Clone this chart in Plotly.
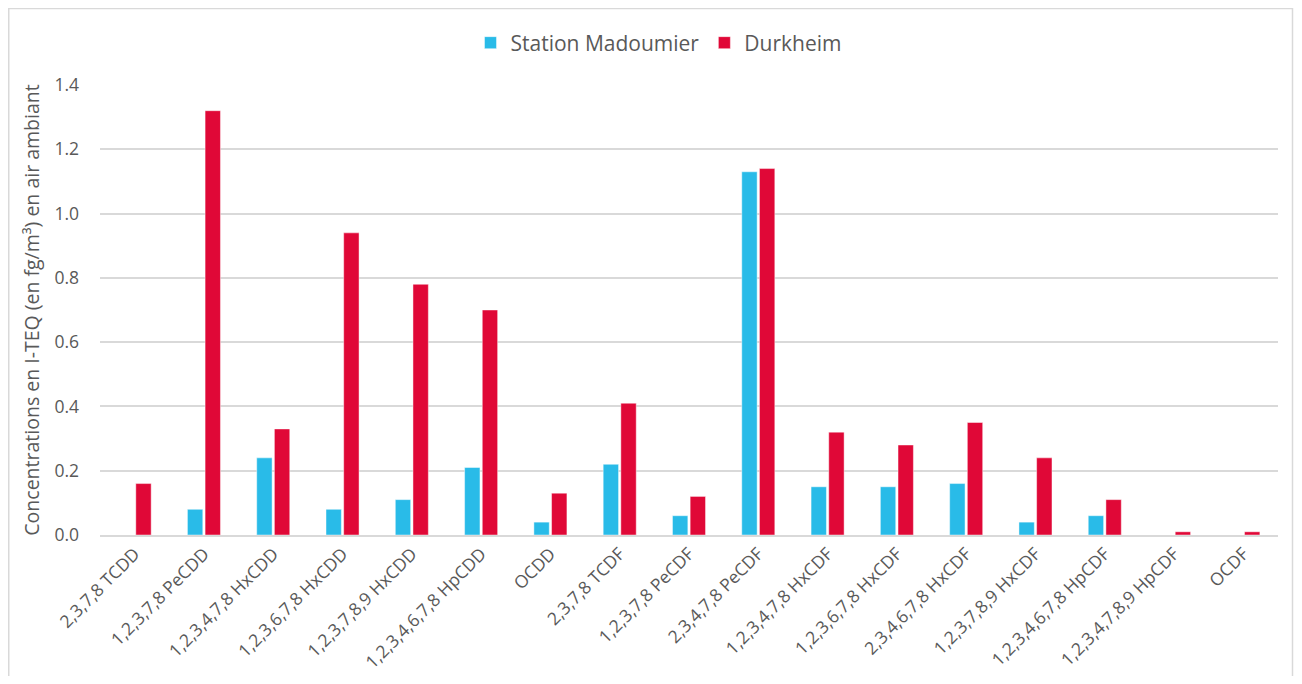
import plotly.graph_objects as go

categories = ["2,3,7,8 TCDD", "1,2,3,7,8 PeCDD", "1,2,3,4,7,8 HxCDD", "1,2,3,6,7,8 HxCDD",
              "1,2,3,7,8,9 HxCDD", "1,2,3,4,6,7,8 HpCDD", "OCDD", "2,3,7,8 TCDF",
              "1,2,3,7,8 PeCDF", "2,3,4,7,8 PeCDF", "1,2,3,4,7,8 HxCDF", "1,2,3,6,7,8 HxCDF",
              "2,3,4,6,7,8 HxCDF", "1,2,3,7,8,9 HxCDF", "1,2,3,4,6,7,8 HpCDF",
              "1,2,3,4,7,8,9 HpCDF", "OCDF"]
madoumier = [None, 0.08, 0.24, 0.08, 0.11, 0.21, 0.04, 0.22, 0.06, 1.13, 0.15, 0.15, 0.16,
             0.04, 0.06, None, None]
durkheim = [0.16, 1.32, 0.33, 0.94, 0.78, 0.70, 0.13, 0.41, 0.12, 1.14, 0.32, 0.28, 0.35,
            0.24, 0.11, 0.01, 0.01]
y_ticks = [0.0, 0.2, 0.4, 0.6, 0.8, 1.0, 1.2, 1.4]

FONT = "Open Sans"
TXT = "#595959"

fig = go.Figure()
fig.add_trace(go.Bar(name="Station Madoumier", x=categories, y=madoumier,
                     marker=dict(color="#29BBE8", line=dict(color="rgba(255,255,255,0.45)", width=1))))
fig.add_trace(go.Bar(name="Durkheim", x=categories, y=durkheim,
                     marker=dict(color="#E00837", line=dict(color="rgba(255,255,255,0.45)", width=1))))

OFF = 8  # default page body margin
W, H = 1302 - 2 * OFF, 684 - 2 * OFF
L, T = 100 - OFF, 85 - OFF
R = W - (1278 - OFF)
B = H - (535 - OFF)
pw, ph = W - L - R, H - T - B

def px_x(p):
    return (p - OFF - L) / pw

def px_y(p):
    return (H - B - (p - OFF)) / ph

fig.update_layout(
    width=W, height=H,
    margin=dict(l=L, r=R, t=T, b=B, autoexpand=False),
    paper_bgcolor="white", plot_bgcolor="white",
    barmode="group", bargap=0.49, bargroupgap=0.13,
    font=dict(family=FONT, color=TXT, size=17),
    legend=dict(orientation="h", x=0.5 - 30 / pw, xanchor="center", y=px_y(43), yanchor="middle",
                font=dict(size=21, color=TXT), traceorder="normal"),
    showlegend=True,
    xaxis=dict(tickangle=-45, tickfont=dict(size=17.5, color=TXT), showgrid=False,
               showline=True, linecolor="#D9D9D9", linewidth=1.5, ticks=""),
    yaxis=dict(range=[0, 1.4], tickvals=y_ticks, tickformat=".1f",
               tickfont=dict(size=17.5, color=TXT), showgrid=True, gridcolor="#D9D9D9",
               gridwidth=1.5, zeroline=False, showline=False, ticks="",
               ticklabelstandoff=20,
               title=dict(text="Concentrations en I-TEQ (en fg/m³) en air ambiant",
                          font=dict(size=19.5, color=TXT), standoff=9)),
    shapes=[dict(type="rect", xref="paper", yref="paper",
                 x0=px_x(OFF + 0.75), x1=px_x(1292.5), y0=px_y(720), y1=px_y(8.5),
                 line=dict(color="#D9D9D9", width=1.5), fillcolor="rgba(0,0,0,0)",
                 layer="below")],
)

fig.write_html("out.html")
